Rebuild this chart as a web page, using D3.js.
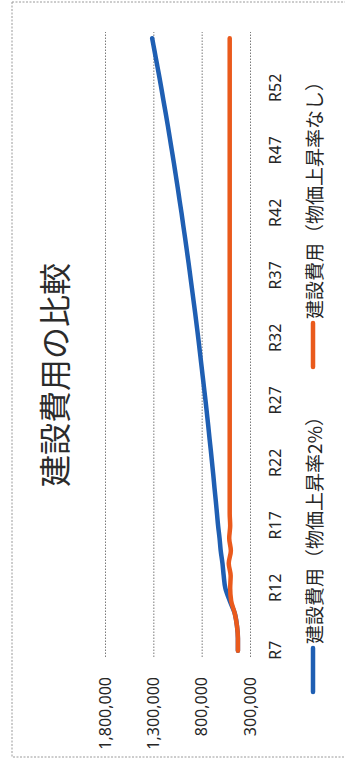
<!DOCTYPE html>
<html>
<head>
<meta charset="utf-8">
<script src="https://cdn.jsdelivr.net/npm/d3@7"></script>
<style>
  body { margin: 0; background: #fff; }
  svg { display: block; }
</style>
</head>
<body>
<script>
// categories (fiscal years, Reiwa)
const years = ["R7","R8","R9","R10","R11","R12","R13","R14","R15","R16",
  "R17","R18","R19","R20","R21","R22","R23","R24","R25","R26",
  "R27","R28","R29","R30","R31","R32","R33","R34","R35","R36",
  "R37","R38","R39","R40","R41","R42","R43","R44","R45","R46",
  "R47","R48","R49","R50","R51","R52","R53","R54","R55","R56"];

// 建設費用（物価上昇率2%）
const costInflation = [425000,425000,435000,458000,510000,555000,572000,585000,603000,615000,
  630000,642000,654000,667000,679000,692000,705000,719000,732000,746000,
  760000,775000,790000,805000,820000,835000,851000,867000,884000,901000,
  918000,935000,953000,971000,990000,1008000,1028000,1047000,1067000,1087000,
  1108000,1129000,1150000,1172000,1195000,1217000,1240000,1264000,1288000,1312000];

// 建設費用（物価上昇率なし）
const costFlat = [425000,425000,435000,458000,495000,505000,500000,520000,498000,515000,
  505000,510000,510000,510000,510000,510000,510000,510000,510000,510000,
  510000,510000,510000,510000,510000,510000,510000,510000,510000,510000,
  510000,510000,510000,510000,510000,510000,510000,510000,510000,510000,
  510000,510000,510000,510000,510000,510000,510000,510000,510000,510000];

const yTicks = [300000, 800000, 1300000, 1800000];
const xLabels = ["R7","R12","R17","R22","R27","R32","R37","R42","R47","R52"];

const seriesNames = ["建設費用（物価上昇率2%）", "建設費用（物価上昇率なし）"];
const seriesColors = ["#1f5fb3", "#ea5a1c"];

const jpFont = "'Noto Sans CJK JP', 'Noto Sans', sans-serif";
const numFont = "'Noto Sans', 'Liberation Sans', sans-serif";

const svg = d3.select('body').append('svg')
  .attr('width', 345)
  .attr('height', 772);

// scan frame
svg.append('path')
  .attr('d', 'M12,2 L345,2 M12,2 L12,757 L345,757')
  .style('fill', 'none')
  .style('stroke', '#9a9a9a')
  .style('stroke-width', 1)
  .style('stroke-dasharray', '2,1.5');

// the chart is drawn upright and turned a quarter counter-clockwise
const g = svg.append('g')
  .attr('transform', 'translate(0,772) rotate(-90)');

const plotLeft = 115, plotRight = 740;

const x = d3.scalePoint()
  .domain(years)
  .range([plotLeft, plotRight])
  .padding(0.5);

const y = d3.scaleLinear()
  .domain([300000, 1800000])
  .range([250, 105]);

// value axis + gridlines
const yAxis = g.append('g')
  .attr('transform', 'translate(' + plotLeft + ',0)')
  .call(d3.axisLeft(y)
    .tickValues(yTicks)
    .tickSize(-(plotRight - plotLeft))
    .tickPadding(20)
    .tickFormat(d3.format(',')));

yAxis.select('.domain').remove();
yAxis.selectAll('line')
  .style('stroke', '#7a7a7a')
  .style('stroke-width', 1)
  .style('stroke-dasharray', '1.5,1.5');
yAxis.selectAll('text')
  .attr('dy', '0.32em')
  .style('font-family', numFont)
  .style('font-size', '16px')
  .style('fill', '#262626');

// category axis
const xAxis = g.append('g')
  .attr('transform', 'translate(0,' + y(300000) + ')')
  .call(d3.axisBottom(x)
    .tickValues(xLabels)
    .tickSize(0)
    .tickPadding(20));

xAxis.select('.domain').remove();
xAxis.selectAll('text')
  .style('font-family', numFont)
  .style('font-size', '16px')
  .style('fill', '#262626');

// lines
const line = d3.line()
  .x((d, i) => x(years[i]))
  .y(d => y(d))
  .curve(d3.curveMonotoneX);

[costInflation, costFlat].forEach((s, k) => {
  g.append('path')
    .datum(s)
    .attr('d', line)
    .style('fill', 'none')
    .style('stroke', seriesColors[k])
    .style('stroke-width', 4.5)
    .style('stroke-linecap', 'round')
    .style('stroke-linejoin', 'round');
});

// title
g.append('text')
  .attr('x', 397)
  .attr('y', 53)
  .attr('text-anchor', 'middle')
  .attr('dominant-baseline', 'central')
  .style('font-family', jpFont)
  .style('font-size', '32px')
  .style('fill', '#2b2b2b')
  .text('建設費用の比較');

// legend
const legendX = [80, 405];
seriesNames.forEach((name, k) => {
  g.append('line')
    .attr('x1', legendX[k])
    .attr('x2', legendX[k] + 44)
    .attr('y1', 313)
    .attr('y2', 313)
    .style('stroke', seriesColors[k])
    .style('stroke-width', 4.5)
    .style('stroke-linecap', 'round');

  g.append('text')
    .attr('x', legendX[k] + 48)
    .attr('y', 313)
    .attr('dominant-baseline', 'central')
    .style('font-family', jpFont)
    .style('font-size', '19px')
    .style('fill', '#262626')
    .text(name);
});
</script>
</body>
</html>
